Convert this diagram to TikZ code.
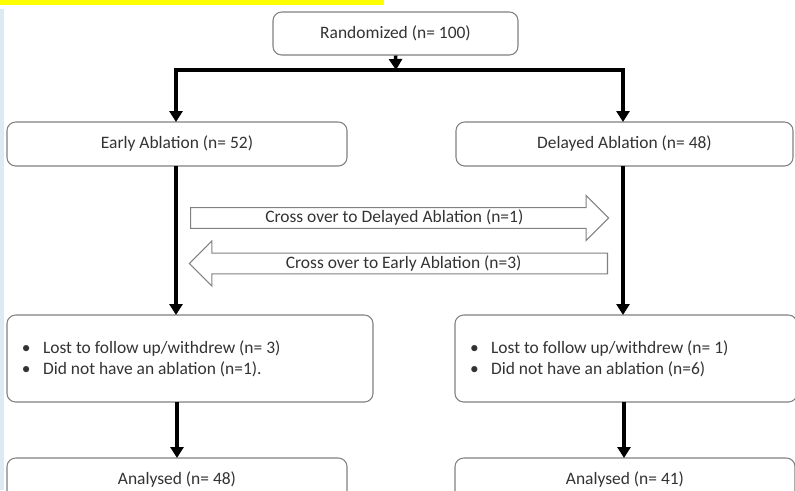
\documentclass[tikz,border=0pt]{standalone}
\usepackage{fontspec}
\setmainfont{Carlito}
\usetikzlibrary{arrows.meta, positioning, shapes.arrows}

\definecolor{boxline}{HTML}{808080}
\definecolor{txt}{HTML}{333333}
\definecolor{hilite}{HTML}{FFFF00}
\definecolor{sideband}{HTML}{DCEAF4}

\newcommand{\bul}{\makebox[18pt][l]{\textbullet}}

\begin{document}
\begin{tikzpicture}
  [x=0.03cm, y=-0.03cm,
   font=\fontsize{14.9pt}{18pt}\selectfont, text=txt,
   box/.style={draw=boxline, line width=0.9pt, rounded corners=0.26cm,
     fill=white, inner sep=0pt},
   listbox/.style={box, align=flush left, inner xsep=0.45cm, inner ysep=0pt},
   crossarrow/.style={draw=boxline, line width=0.9pt, single arrow,
     single arrow head extend=0.345cm, minimum height=12.54cm,
     minimum width=1.35cm, inner ysep=0.05cm, inner xsep=0pt},
   flow/.style={line width=3pt, -{Triangle[width=0.39cm, length=0.33cm]}},
   trunk/.style={line width=3pt}]

  \useasboundingbox (0,0) rectangle (795,490);
  \clip (0,0) rectangle (795,490);

  \fill[hilite]   (0,0) rectangle (384,5);
  \fill[sideband] (0,9) rectangle (4,490);

  \node[box, minimum width=7.35cm, minimum height=1.29cm]
    (randomized) at (395.5,33.5) {Randomized (n= 100)};

  \node[box, minimum width=10.2cm, minimum height=1.32cm]
    (early) at (177,144) {Early Ablation (n= 52)};
  \node[box, minimum width=10.11cm, minimum height=1.32cm]
    (delayed) at (624.5,144) {Delayed Ablation (n= 48)};

  \node[listbox, text width=10.08cm, minimum height=2.61cm]
    (lost early) at (190,358.5)
    {\bul Lost to follow up/withdrew (n= 3)\\
     \bul Did not have an ablation (n=1).};
  \node[listbox, text width=9.36cm, minimum height=2.61cm]
    (lost delayed) at (626,358.5)
    {\bul Lost to follow up/withdrew (n= 1)\\
     \bul Did not have an ablation (n=6)};

  \node[box, minimum width=10.2cm, minimum height=1.32cm]
    (analysed early) at (177,480) {Analysed (n= 48)};
  \node[box, minimum width=10.2cm, minimum height=1.32cm]
    (analysed delayed) at (625,480) {Analysed (n= 41)};

  \coordinate (split) at (396,70);

  \draw[flow]  (randomized.south) -- (split);
  \draw[trunk] (176,70) -- (623,70);
  \draw[flow]  (split) -| (176,122);
  \draw[flow]  (split) -| (623,122);

  \draw[flow] (176,166) -- (176,315);
  \draw[flow] (623,166) -- (623,315);
  \draw[flow] (177,402) -- (177,458);
  \draw[flow] (624,402) -- (624,458);

  \node[crossarrow, anchor=tail] (to delayed) at (190,218)
    {Cross over to Delayed Ablation (n=1)};
  \node[crossarrow, shape border rotate=180, anchor=tail] (to early)
    at (608,263.5) {Cross over to Early Ablation (n=3)};
\end{tikzpicture}
\end{document}
